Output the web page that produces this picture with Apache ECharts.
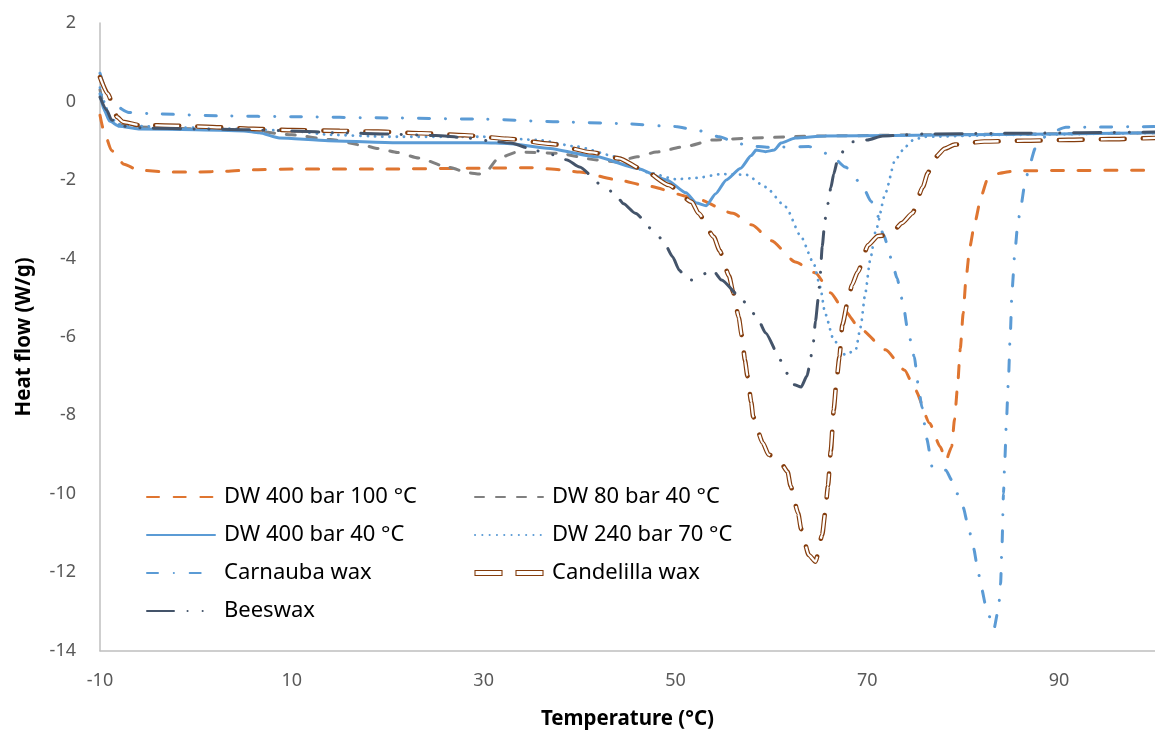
<!DOCTYPE html>
<html><head><meta charset="utf-8">
<script src="https://cdn.jsdelivr.net/npm/echarts@6/dist/echarts.min.js"></script>
<style>html,body{margin:0;padding:0;background:#fff}#c{width:1155px;height:736px}</style>
</head><body><div id="c"></div><script>
// ---- data (temperature °C, heat flow W/g) ----
const xTicks = [-10, 10, 30, 50, 70, 90];
const yTicks = [2, 0, -2, -4, -6, -8, -10, -12, -14];

const dw400_100 = [[-10,-0.35],[-9.6,-0.75],[-8.8,-1.25],[-7.5,-1.6],[-6,-1.75],[-3,-1.8],[0,-1.8],[3,-1.78],[6,-1.74],[10,-1.72],[20,-1.72],[30,-1.7],[35,-1.69],[38,-1.74],[40,-1.8],[44,-2.0],[47,-2.15],[52,-2.46],[56,-2.85],[58,-3.15],[60,-3.55],[62.5,-4.09],[64.6,-4.37],[66.2,-4.88],[67.5,-5.3],[69.3,-5.8],[71.9,-6.33],[73.9,-6.85],[75,-7.35],[76.5,-8.2],[77.6,-8.8],[78.2,-9.15],[78.8,-8.8],[79.1,-8.1],[79.4,-7.3],[79.7,-6.3],[80.0,-5.4],[80.3,-4.5],[80.7,-3.7],[81.2,-3.1],[81.9,-2.4],[82.5,-2.0],[83.8,-1.83],[85.3,-1.77],[90,-1.76],[100,-1.75]];

const dw80_40 = [[-10,0.3],[-9.6,-0.1],[-9,-0.45],[-8,-0.6],[-6,-0.65],[-3,-0.68],[0,-0.7],[5,-0.72],[10,-0.85],[14,-0.97],[17.5,-1.12],[19,-1.2],[21,-1.3],[23.2,-1.44],[26.3,-1.68],[28.5,-1.82],[29.6,-1.85],[30.4,-1.75],[31.5,-1.45],[33.5,-1.29],[37.7,-1.32],[41.8,-1.49],[43.9,-1.54],[46,-1.41],[48,-1.29],[51,-1.15],[54,-0.98],[58,-0.93],[65,-0.88],[80,-0.84],[100,-0.8]];

const dw400_40 = [[-10,0.2],[-9.6,-0.2],[-9,-0.5],[-8,-0.63],[-6,-0.7],[0,-0.72],[5,-0.75],[6.6,-0.8],[8.7,-0.93],[13.8,-1.0],[21,-1.05],[30,-1.05],[32.5,-1.07],[36.6,-1.19],[41.8,-1.41],[46,-1.7],[49.1,-2.0],[51.1,-2.33],[52.2,-2.59],[53.2,-2.66],[54.2,-2.35],[55.3,-2.0],[56.8,-1.7],[57.9,-1.38],[58.4,-1.24],[59.4,-1.28],[60.3,-1.24],[61,-1.06],[62.5,-0.93],[65.6,-0.88],[80,-0.85],[100,-0.8]];

const dw240_70 = [[-10,0.35],[-9.6,0.0],[-9,-0.4],[-8,-0.58],[-6,-0.63],[0,-0.67],[5,-0.7],[10,-0.75],[14,-0.85],[20,-0.9],[30,-0.9],[35.6,-0.98],[39.7,-1.15],[43.9,-1.41],[47,-1.8],[50,-1.98],[52.2,-1.95],[54.8,-1.85],[57.4,-1.87],[59.4,-2.18],[61.5,-2.69],[63.1,-3.45],[64.4,-4.12],[65.1,-4.73],[65.6,-5.4],[66.5,-6.08],[67.7,-6.46],[68.8,-6.33],[69.3,-5.75],[69.8,-4.88],[70.3,-4.04],[70.9,-3.28],[71.9,-2.33],[72.9,-1.49],[74,-1.15],[74.8,-0.98],[76,-0.9],[85,-0.85],[100,-0.8]];

const carnauba = [[-10,0.72],[-9.4,0.3],[-8.5,-0.1],[-7,-0.28],[-4,-0.32],[3,-0.37],[10,-0.39],[20,-0.42],[30,-0.45],[38,-0.52],[44,-0.56],[50,-0.64],[52.2,-0.73],[54.6,-0.9],[56.3,-1.05],[57.6,-1.13],[59.7,-1.17],[63.9,-1.15],[66.2,-1.36],[67.7,-1.67],[69.4,-2.1],[70.4,-2.55],[70.8,-2.7],[71.7,-3.4],[72.5,-4.0],[73.1,-4.5],[73.7,-5.1],[74.2,-5.8],[74.9,-6.5],[75.3,-7.2],[75.7,-7.8],[76.2,-8.6],[76.8,-9.35],[77.5,-9.35],[78.2,-9.4],[78.8,-9.65],[79.4,-10.0],[80.0,-10.35],[80.5,-10.8],[81.1,-11.4],[81.5,-11.9],[81.9,-12.4],[82.4,-12.9],[83.2,-13.45],[83.7,-12.9],[83.9,-12.3],[84.05,-11.3],[84.2,-10.0],[84.35,-9.1],[84.5,-8.2],[84.7,-7.2],[84.9,-6.0],[85.1,-4.8],[85.4,-3.8],[85.7,-3.1],[86.0,-2.7],[86.4,-2.15],[86.9,-1.64],[87.5,-1.2],[88.1,-0.98],[89,-0.8],[90.7,-0.66],[100,-0.64]];

const candelilla = [[-10,0.62],[-9.2,0.2],[-8.2,-0.4],[-7.6,-0.52],[-6,-0.6],[-2,-0.62],[2.5,-0.66],[6,-0.7],[10,-0.73],[15,-0.75],[19,-0.77],[23.5,-0.81],[28,-0.86],[32.5,-0.95],[37,-1.08],[41.3,-1.3],[44.1,-1.45],[46.7,-1.75],[49.3,-2.13],[51.7,-2.56],[52.4,-2.85],[54.0,-3.45],[54.6,-3.8],[55.6,-4.45],[56.0,-4.85],[56.6,-5.5],[56.9,-5.95],[57.25,-6.6],[57.5,-7.0],[57.9,-7.66],[58.1,-8.04],[59.1,-8.7],[59.7,-9.0],[60.8,-9.14],[61.7,-9.44],[62.0,-9.8],[62.8,-10.5],[63.1,-10.9],[63.9,-11.56],[64.6,-11.73],[65.3,-11.05],[65.6,-10.5],[65.9,-9.8],[66.2,-8.9],[66.5,-7.86],[66.8,-7.1],[67.1,-6.5],[67.4,-5.7],[68.0,-5.06],[68.4,-4.68],[69.0,-4.35],[70.1,-3.66],[71.1,-3.43],[72.4,-3.4],[73.6,-3.1],[74.7,-2.85],[75.8,-2.18],[76.3,-1.83],[77.0,-1.44],[78.1,-1.2],[79.1,-1.1],[82.2,-1.02],[86.4,-1.0],[91,-0.98],[95.2,-0.96],[100,-0.93]];

const beeswax = [[-10,0.11],[-9.3,-0.22],[-8.8,-0.47],[-7.7,-0.6],[-7.2,-0.65],[-5,-0.68],[0,-0.7],[5,-0.72],[10,-0.75],[15,-0.8],[20,-0.83],[25,-0.87],[28,-0.92],[30.4,-1.0],[32.8,-1.06],[35.6,-1.26],[37.2,-1.36],[38.7,-1.49],[40,-1.67],[42.3,-2.13],[43.6,-2.33],[44.6,-2.61],[45.8,-2.85],[48.0,-3.36],[48.9,-3.63],[49.7,-3.96],[50.4,-4.3],[51.1,-4.5],[51.7,-4.55],[52.7,-4.42],[53.9,-4.3],[54.8,-4.55],[56.8,-5.0],[57.8,-5.3],[58.7,-5.6],[59.4,-5.9],[61.0,-6.6],[61.5,-6.9],[62.4,-7.22],[63.1,-7.28],[63.7,-7.0],[64.3,-6.35],[64.6,-5.6],[64.9,-5.0],[65.1,-4.4],[65.3,-3.7],[65.6,-3.0],[65.9,-2.6],[66.2,-2.2],[66.5,-1.85],[66.9,-1.5],[67.8,-1.15],[68.5,-1.03],[70.0,-0.98],[71.6,-0.88],[76,-0.83],[85,-0.81],[100,-0.78]];

const names = ['DW 400 bar 100 °C','DW 80 bar 40 °C','DW 400 bar 40 °C','DW 240 bar 70 °C','Carnauba wax','Candelilla wax','Beeswax'];

const chart = echarts.init(document.getElementById('c'), null, {renderer:'canvas'});
const base = {type:'line', symbol:'none', showSymbol:false, smooth:0.2, smoothMonotone:'x', animation:false, silent:true};
const legendText = {fontSize:22, color:'#000', fontFamily:'Noto Sans', lineHeight:24, padding:[0,0,0,4]};
const hiddenDot = {color:'rgba(0,0,0,0)', borderColor:'rgba(0,0,0,0)', borderWidth:0, opacity:0};
const candIcon = {name:names[5], icon:'path://M0,0H27V5H0Z M41,0H68V5H41Z', itemStyle:{color:'#ffffff', borderColor:'#843C0C', borderWidth:1.1, opacity:1}};

chart.setOption({
  animation:false,
  backgroundColor:'#fff',
  grid:{left:100, right:-6.5, top:23, bottom:85.3, containLabel:false},
  xAxis:{type:'value', min:xTicks[0], max:100, interval:20,
    name:'Temperature (°C)', nameLocation:'middle', nameGap:58,
    nameTextStyle:{fontSize:20.5, fontWeight:'bold', color:'#000', fontFamily:'Noto Sans'},
    axisLine:{show:true, onZero:false, lineStyle:{color:'#bfbfbf', width:1.5}},
    axisTick:{show:false}, splitLine:{show:false},
    axisLabel:{showMaxLabel:false, margin:21, fontSize:18, color:'#595959', fontFamily:'Noto Sans'}},
  yAxis:{type:'value', min:yTicks[yTicks.length-1], max:yTicks[0], interval:2,
    name:'Heat flow (W/g)', nameLocation:'middle', nameGap:65, nameRotate:90,
    nameTextStyle:{fontSize:20.5, fontWeight:'bold', color:'#000', fontFamily:'Noto Sans'},
    axisLine:{show:true, onZero:false, lineStyle:{color:'#bfbfbf', width:1.5}},
    axisTick:{show:false}, splitLine:{show:false},
    axisLabel:{margin:24, fontSize:18, color:'#595959', fontFamily:'Noto Sans'}},
  legend:[
    {orient:'vertical', left:141, top:480, itemWidth:68, itemHeight:5, itemGap:14, selectedMode:false,
     itemStyle:hiddenDot, textStyle:legendText, data:[names[0], names[2], names[4], names[6]]},
    {orient:'vertical', left:469, top:480, itemWidth:68, itemHeight:5, itemGap:14, selectedMode:false,
     itemStyle:hiddenDot, textStyle:legendText, data:[names[1], names[3], candIcon]}
  ],
  series:[
    Object.assign({}, base, {name:names[0], data:dw400_100, lineStyle:{color:'#DF7530', width:3, type:[12,14.7], cap:'round'}, itemStyle:{color:'#DF7530'}}),
    Object.assign({}, base, {name:names[1], data:dw80_40, lineStyle:{color:'#808080', width:3, type:[9,12], cap:'round'}, itemStyle:{color:'#808080'}}),
    Object.assign({}, base, {name:names[2], data:dw400_40, lineStyle:{color:'#5B9BD5', width:3, type:'solid', cap:'round'}, itemStyle:{color:'#5B9BD5'}}),
    Object.assign({}, base, {name:names[3], data:dw240_70, lineStyle:{color:'#5B9BD5', width:2.8, type:[0.1,7.2], cap:'round'}, itemStyle:{color:'#5B9BD5'}}),
    Object.assign({}, base, {name:names[4], data:carnauba, lineStyle:{color:'#5B9BD5', width:3, type:[11,15.8,0.1,15.8], cap:'round'}, itemStyle:{color:'#5B9BD5'}}),
    Object.assign({}, base, {name:names[5], data:candelilla, lineStyle:{color:'#843C0C', width:4.6, type:[24,18], cap:'round'}, itemStyle:{color:'#843C0C'}}),
    Object.assign({}, base, {name:'candelilla-inner', data:candelilla, lineStyle:{color:'#ffffff', width:2.3, type:[24,18], cap:'butt'}, itemStyle:{color:'#ffffff'}}),
    Object.assign({}, base, {name:names[6], data:beeswax, lineStyle:{color:'#44546A', width:3, type:[27,13.5,0.1,15,0.1,13.5], cap:'round'}, itemStyle:{color:'#44546A'}})
  ]
});
</script></body></html>
